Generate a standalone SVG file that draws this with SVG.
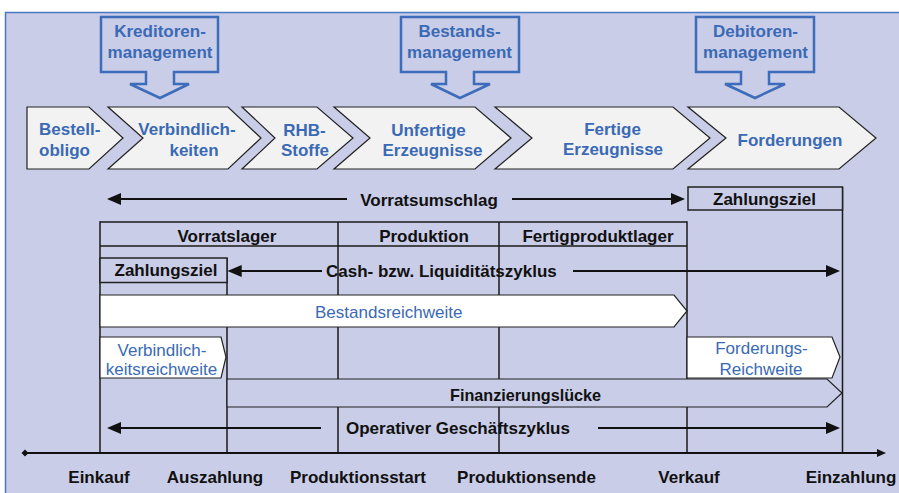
<svg xmlns="http://www.w3.org/2000/svg" width="899" height="493" viewBox="0 0 899 493">
<defs>
<style>
.bg{fill:#C9CDE7;stroke:#4A78C4;stroke-width:1.5}
.call{fill:none;stroke:#3D6DBA;stroke-width:2.5;stroke-linejoin:miter}
.chev{fill:#F2F2F2;stroke:#222;stroke-width:1.2}
.wbox{fill:#FFFFFF;stroke:#222;stroke-width:1.2}
.lbox{fill:#C9CDE7;stroke:#222;stroke-width:1.2}
.grid{stroke:#1a1a1a;stroke-width:1.5;fill:none}
.arr{stroke:#111;stroke-width:2;fill:none}
.t{font-family:"Liberation Sans",Arial,sans-serif;font-size:17px;text-anchor:middle}
.bk{font-weight:bold;fill:#111}
.bl{font-weight:bold;fill:#3A6AB5}
.rl{font-weight:normal;fill:#3A6AB5}
</style>
<marker id="ah" viewBox="0 0 14 12" refX="2" refY="6" markerWidth="14" markerHeight="12" markerUnits="userSpaceOnUse" orient="auto"><path d="M0,0 L14,6 L0,12 Z" fill="#111"/></marker>
<marker id="ax" viewBox="0 0 9 8" refX="1" refY="4" markerWidth="9" markerHeight="8" markerUnits="userSpaceOnUse" orient="auto"><path d="M0,0 L9,4 L0,8 Z" fill="#111"/></marker>
</defs>
<rect x="0" y="0" width="899" height="493" fill="#FFFFFF"/>
<rect class="bg" x="5.5" y="12.5" width="900" height="490"/>

<g id="callout-kreditoren">
<path class="call" d="M101,17 H218 V72 H174 V84 H189 L160,98 L130,84 H146 V72 H101 Z"/>
<text class="t bl" x="160" y="37">Kreditoren-</text>
<text class="t bl" x="160" y="57.5">management</text>
</g>
<g id="callout-bestands">
<path class="call" d="M401,17 H519 V72 H474 V84 H490 L460,98 L431,84 H446 V72 H401 Z"/>
<text class="t bl" x="459.5" y="37">Bestands-</text>
<text class="t bl" x="459.5" y="57.5">management</text>
</g>
<g id="callout-debitoren">
<path class="call" d="M696,17 H814 V72 H769 V84 H785 L755,98 L725,84 H741 V72 H696 Z"/>
<text class="t bl" x="755.5" y="37">Debitoren-</text>
<text class="t bl" x="755.5" y="57.5">management</text>
</g>

<g id="chev-bestellobligo">
<polygon class="chev" points="27,107 89,107 123,138 89,169 27,169"/>
<text class="t bl" x="39" y="135" style="text-anchor:start">Bestell-</text>
<text class="t bl" x="39" y="155.5" style="text-anchor:start">obligo</text>
</g>
<g id="chev-verbindlichkeiten">
<polygon class="chev" points="108,107 228,107 261,138 228,169 108,169 143,138"/>
<text class="t bl" x="187" y="135">Verbindlich-</text>
<text class="t bl" x="194" y="155.5">keiten</text>
</g>
<g id="chev-rhb">
<polygon class="chev" points="242,107 317,107 353,138 317,169 242,169 275,138"/>
<text class="t bl" x="304.5" y="136">RHB-</text>
<text class="t bl" x="305" y="155.5">Stoffe</text>
</g>
<g id="chev-unfertige">
<polygon class="chev" points="334,107 475,107 511,138 475,169 334,169 370,138"/>
<text class="t bl" x="428.5" y="136">Unfertige</text>
<text class="t bl" x="432.5" y="156">Erzeugnisse</text>
</g>
<g id="chev-fertige">
<polygon class="chev" points="495,107 673,107 710,138 673,169 495,169 532,138"/>
<text class="t bl" x="612.5" y="135">Fertige</text>
<text class="t bl" x="613" y="155">Erzeugnisse</text>
</g>
<g id="chev-forderungen">
<polygon class="chev" points="688,107 839,107 876,138 839,169 688,169 726,138"/>
<text class="t bl" x="790" y="145.5">Forderungen</text>
</g>

<g id="grid">
<line class="grid" x1="100" y1="222" x2="687" y2="222"/>
<line class="grid" x1="100" y1="246" x2="687" y2="246"/>
<line class="grid" x1="100" y1="221.3" x2="100" y2="453"/>
<line class="grid" x1="338" y1="222" x2="338" y2="453"/>
<line class="grid" x1="499" y1="222" x2="499" y2="453"/>
<line class="grid" x1="687" y1="221.3" x2="687" y2="453"/>
<line class="grid" x1="227" y1="258" x2="227" y2="453"/>
<line class="grid" x1="842.5" y1="187" x2="842.5" y2="453"/>
</g>

<g id="header-vorratslager"><text class="t bk" x="227" y="241.5">Vorratslager</text></g>
<g id="header-produktion"><text class="t bk" x="424" y="241.5">Produktion</text></g>
<g id="header-fertigproduktlager"><text class="t bk" x="598" y="241.5">Fertigproduktlager</text></g>

<g id="zahlungsziel-right">
<rect x="688" y="187" width="154.5" height="23" fill="#C9CDE7" stroke="#222" stroke-width="1.5"/>
<text class="t bk" x="764.5" y="205">Zahlungsziel</text>
</g>
<g id="zahlungsziel-left">
<rect x="100" y="258" width="127" height="24.5" fill="#C9CDE7" stroke="#222" stroke-width="1.5"/>
<text class="t bk" x="166" y="275.5">Zahlungsziel</text>
</g>

<g id="bestandsreichweite">
<polygon class="wbox" points="100,295 674,295 687,311 674,327 100,327"/>
<text class="t rl" x="315" y="318" style="text-anchor:start">Bestandsreichweite</text>
</g>
<g id="verbindlichkeitsreichweite">
<polygon class="wbox" points="100,337 221,337 226,357 221,378 100,378"/>
<text class="t rl" x="162" y="355.5">Verbindlich-</text>
<text class="t rl" x="161.5" y="375">keitsreichweite</text>
</g>
<g id="forderungsreichweite">
<polygon class="wbox" points="687,337 832,337 840,357 832,378 687,378"/>
<text class="t rl" x="761.5" y="354">Forderungs-</text>
<text class="t rl" x="761" y="374.5">Reichweite</text>
</g>
<g id="finanzierungsluecke">
<polygon class="lbox" points="227,379 827,379 842,393 827,407 227,407"/>
<text class="t bk" x="450" y="400.5" style="text-anchor:start;font-size:16.2px">Finanzierungslücke</text>
</g>

<g id="connectors">
<line class="arr" x1="347" y1="199" x2="119" y2="199" marker-end="url(#ah)"/>
<line class="arr" x1="512" y1="199" x2="673" y2="199" marker-end="url(#ah)"/>
<line class="arr" x1="322" y1="271" x2="239.7" y2="271" marker-end="url(#ah)"/>
<line class="arr" x1="573" y1="271" x2="828" y2="271" marker-end="url(#ah)"/>
<line class="arr" x1="321" y1="428" x2="119" y2="428" marker-end="url(#ah)"/>
<line class="arr" x1="598" y1="428" x2="828" y2="428" marker-end="url(#ah)"/>
<line class="arr" x1="25" y1="453" x2="878" y2="453" marker-end="url(#ax)"/>
<polygon points="25,449.5 28.5,453 25,456.5 21.5,453" fill="#111"/>
</g>

<g id="label-vorratsumschlag"><text class="t bk" x="429" y="205.5">Vorratsumschlag</text></g>
<g id="label-cash"><text class="t bk" x="326" y="277" style="text-anchor:start">Cash- bzw. Liquiditätszyklus</text></g>
<g id="label-operativ"><text class="t bk" x="346" y="434" style="text-anchor:start">Operativer Geschäftszyklus</text></g>

<g id="axis-labels">
<text class="t bk" x="99" y="483">Einkauf</text>
<text class="t bk" x="215" y="483">Auszahlung</text>
<text class="t bk" x="358" y="483">Produktionsstart</text>
<text class="t bk" x="526.5" y="483">Produktionsende</text>
<text class="t bk" x="689" y="483">Verkauf</text>
<text class="t bk" x="851" y="483">Einzahlung</text>
</g>
</svg>
